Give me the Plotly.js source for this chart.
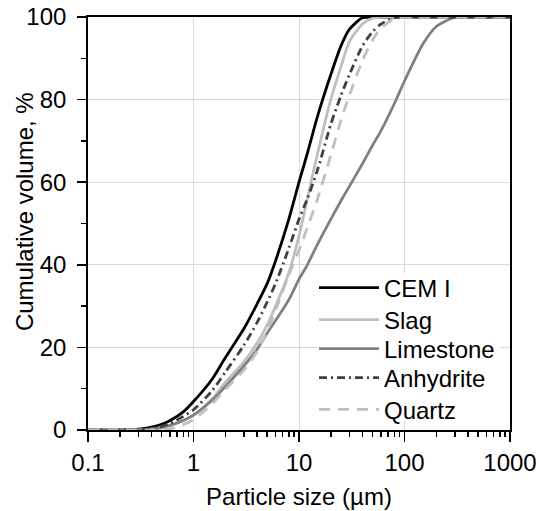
<!DOCTYPE html>
<html>
<head>
<meta charset="utf-8">
<script src="https://cdn.plot.ly/plotly-3.0.1.min.js"></script>
<style>
  html, body { margin: 0; padding: 0; background: #fff; }
  #chart { width: 539px; height: 511px; }
</style>
</head>
<body>
<div id="chart"></div>
<script>
// Particle size (µm)
const sizes = [0.1, 0.2, 0.3, 0.4, 0.5, 0.6, 0.8, 1, 1.5, 2, 3, 4, 5, 6, 8, 10, 12, 15, 20, 25, 30, 40, 50, 60, 80, 100, 150, 200, 300, 400, 600, 1000];

// Cumulative volume (%)
const cemI      = [0, 0, 0.2, 0.7, 1.4, 2.3, 4.4, 6.9, 12.3, 17.5, 24.5, 30.5, 35.5, 41, 51, 60, 67, 76, 86, 93, 97, 99.8, 100, 100, 100, 100, 100, 100, 100, 100, 100, 100];
const slag      = [0, 0, 0, 0.2, 0.6, 1.1, 2.3, 3.6, 7.5, 11.5, 16.5, 21, 25.5, 30, 38, 47, 56, 67, 80, 88, 94, 98.3, 99.7, 100, 100, 100, 100, 100, 100, 100, 100, 100];
const limestone = [0, 0, 0, 0.2, 0.6, 1.1, 2.3, 3.6, 7.2, 10.5, 15.5, 19.5, 23.5, 26.5, 31.5, 36.5, 40, 45, 51, 55.5, 59, 64.5, 69, 72.5, 79, 84.5, 93.5, 97.7, 99.9, 100, 100, 100];
const anhydrite = [0, 0, 0.1, 0.4, 0.9, 1.6, 3.3, 4.9, 9.5, 14, 20.5, 26, 31, 35.5, 44, 51, 56, 63, 74, 81, 86, 93, 96.5, 98.3, 99.8, 100, 100, 100, 100, 100, 100, 100];
const quartz    = [0, 0, 0, 0, 0.1, 0.3, 1.3, 2.5, 6.3, 9.8, 14.5, 19, 24, 29, 37.5, 43.5, 49, 56, 66.5, 75, 81, 89.5, 94.5, 97.3, 99.6, 100, 100, 100, 100, 100, 100, 100];

const seriesNames = ['CEM I', 'Slag', 'Limestone', 'Anhydrite', 'Quartz'];
const xTickVals = [0.1, 1, 10, 100, 1000];
const xTickText = ['0.1', '1', '10', '100', '1000'];
const yTickVals = [0, 20, 40, 60, 80, 100];

const FONT = 'Liberation Sans, Arial, sans-serif';
const W = 2.8;

const styles = [
  { color: '#000000', width: W, dash: 'solid' },
  { color: '#bfbfbf', width: W, dash: 'solid' },
  { color: '#808080', width: W, dash: 'solid' },
  { color: '#404040', width: W, dash: '8px,4px,2px,4px' },
  { color: '#bfbfbf', width: W, dash: '11px,8px' }
];
const values = [cemI, slag, limestone, anhydrite, quartz];
const legendIds = ['legend', 'legend2', 'legend3', 'legend4', 'legend5'];

const traces = values.map((v, i) => ({
  type: 'scatter', mode: 'lines',
  name: seriesNames[i],
  x: sizes, y: v,
  legend: legendIds[i],
  line: Object.assign({ shape: 'spline', smoothing: 0.7 }, styles[i])
}));

// legend rows (paper y of row centres)
const legendRowY = [0.344, 0.2665, 0.196, 0.126, 0.049];
const legendBase = {
  x: 0.5355, xanchor: 'left', yanchor: 'middle',
  bgcolor: 'rgba(0,0,0,0)', borderwidth: 0,
  font: { family: FONT, size: 24, color: '#000000' },
  itemwidth: 60, tracegroupgap: 0
};

const layout = {
  width: 539,
  height: 511,
  margin: { l: 88, r: 29, t: 17, b: 81 },
  paper_bgcolor: '#ffffff',
  plot_bgcolor: '#ffffff',
  font: { family: FONT, size: 24, color: '#000000' },
  showlegend: true,
  xaxis: {
    type: 'log',
    range: [-1, 3],
    tickvals: xTickVals,
    ticktext: xTickText,
    ticks: 'outside', ticklen: 10, tickwidth: 1.5, tickcolor: '#000000',
    minor: { ticks: 'outside', ticklen: 5, tickwidth: 1.5, tickcolor: '#000000', dtick: 'D1', showgrid: false },
    showgrid: true, gridcolor: '#d9d9d9', gridwidth: 1,
    showline: true, linecolor: '#000000', linewidth: 1.8, mirror: true,
    zeroline: false,
    tickfont: { family: FONT, size: 24, color: '#000000' },
    title: { text: 'Particle size (µm)', font: { family: FONT, size: 24, color: '#000000' }, standoff: 14 },
    fixedrange: true
  },
  yaxis: {
    range: [0, 100],
    tickvals: yTickVals,
    ticks: 'outside', ticklen: 9, tickwidth: 1.5, tickcolor: '#000000',
    ticklabelstandoff: 6,
    minor: { ticks: 'outside', ticklen: 5, tickwidth: 1.5, tickcolor: '#000000', dtick: 10, showgrid: false },
    showgrid: true, gridcolor: '#d9d9d9', gridwidth: 1,
    showline: true, linecolor: '#000000', linewidth: 1.8, mirror: true,
    zeroline: false,
    tickfont: { family: FONT, size: 24, color: '#000000' },
    fixedrange: true
  },
  annotations: [{
    text: 'Cumulative volume, %',
    xref: 'paper', yref: 'paper',
    x: -0.149, y: 0.528,
    xanchor: 'center', yanchor: 'middle',
    textangle: -90, showarrow: false,
    font: { family: FONT, size: 24, color: '#000000' }
  }],
  shapes: [{
    type: 'rect', xref: 'paper', yref: 'paper',
    x0: 0.5427, x1: 0.9763, y0: 0.022, y1: 0.38,
    fillcolor: '#ffffff', line: { width: 0 }, layer: 'above'
  }]
};
legendIds.forEach((id, i) => {
  layout[id] = Object.assign({}, legendBase, { y: legendRowY[i] });
});

Plotly.newPlot('chart', traces, layout, { staticPlot: true, displayModeBar: false });
</script>
</body>
</html>
